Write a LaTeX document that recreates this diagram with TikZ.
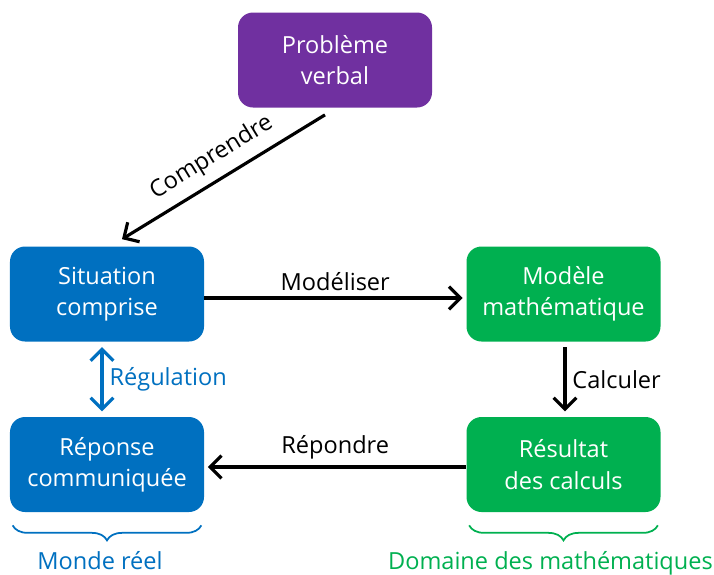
\documentclass[tikz,border=0pt]{standalone}
\usepackage{fontspec}
\setmainfont{Open Sans}
\usetikzlibrary{arrows.meta,decorations.pathreplacing}
\definecolor{violet}{HTML}{7030A0}
\definecolor{bleu}{HTML}{0070C0}
\definecolor{vert}{HTML}{00B050}
\begin{document}
\begin{tikzpicture}[auto,
		font=\fontsize{13.4}{17.8}\selectfont,
		pointe/.tip={Straight Barb[length=6.5pt,width=13pt,line width=1.8pt]},
		box/.style={rounded corners=0.3cm, minimum width=3.88cm, minimum height=1.9cm, align=center, text=white},
		fleche/.style={line width=1.8pt, -pointe},
		accolade/.style={decorate, decoration={brace, mirror, amplitude=0.3cm}, line width=1pt}]
	\useasboundingbox (0,0) rectangle (14.28,-11.48);
	\node[box, fill=violet] (prob) at (6.7, -1.2) {Problème\\verbal};
	\node[box, fill=bleu] (sit) at (2.14, -5.88) {Situation\\comprise};
	\node[box, fill=vert] (mod) at (11.27, -5.88) {Modèle\\mathématique};
	\node[box, fill=bleu] (rep) at (2.14, -9.29) {Réponse\\communiquée};
	\node[box, fill=vert] (res) at (11.27, -9.29) {Résultat\\des calculs};
	\draw[fleche] ([shift={(-0.2,-0.14)}]prob.south) to node[sloped, above=2pt]{Comprendre} ([shift={(0.3,0.14)}]sit.north);
	\draw[fleche, shorten >=2pt] ([yshift=-0.08cm]sit.east) to node{Modéliser} ([yshift=-0.08cm]mod.west);
	\draw[fleche, shorten <=3pt, shorten >=3pt] ([xshift=0.03cm]mod.south) to node{Calculer} ([xshift=0.03cm]res.north);
	\draw[fleche, shorten >=2pt] ([yshift=-0.05cm]res.west) to node[swap]{Répondre} ([yshift=-0.05cm]rep.east);
	\draw[fleche, bleu, line width=2pt, pointe-pointe, shorten <=3pt, shorten >=3pt] ([xshift=-0.1cm]sit.south) to node[text=bleu]{Régulation} ([xshift=-0.1cm]rep.north);
	\draw[accolade, bleu] ([shift={(0.06,-0.26)}]rep.south west) to node[below=0.38cm, xshift=-0.14cm, text=bleu] (monde) {Monde réel} ([shift={(-0.06,-0.26)}]rep.south east);
	\draw[accolade, vert] ([shift={(0.06,-0.26)}]res.south west) to node[below=0.38cm, xshift=-0.26cm, text=vert] (domaine) {Domaine des mathématiques} ([shift={(-0.06,-0.26)}]res.south east);
\end{tikzpicture}
\end{document}
